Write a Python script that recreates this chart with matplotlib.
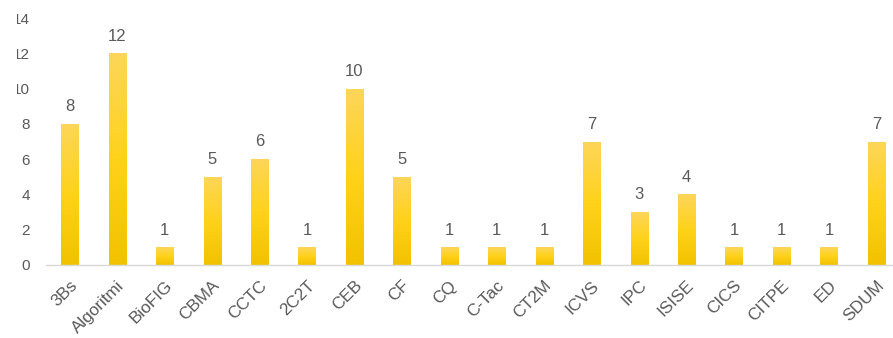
import numpy as np
import matplotlib.pyplot as plt
import matplotlib.transforms as mtransforms
from matplotlib.colors import LinearSegmentedColormap
from matplotlib.patches import Rectangle

plt.rcParams["font.family"] = ["Liberation Sans", "DejaVu Sans"]

# data
units = ["3Bs", "Algoritmi", "BioFIG", "CBMA", "CCTC", "2C2T", "CEB", "CF", "CQ",
         "C-Tac", "CT2M", "ICVS", "IPC", "ISISE", "CICS", "CITPE", "ED", "SDUM"]
counts = [8, 12, 1, 5, 6, 1, 10, 5, 1, 1, 1, 7, 3, 4, 1, 1, 1, 7]

text_col = "#595959"
grad = LinearSegmentedColormap.from_list("gold", ["#f2c200", "#ffd21a", "#fdd65a"])

W, H = 893, 338
fig = plt.figure(figsize=(W / 100, H / 100), dpi=100)
ax = fig.add_axes([46 / W, 73 / H, 1 - 46 / W, (265 - 18) / H])

x = np.arange(len(units))
bars = ax.bar(x, counts, width=0.36, color="none", edgecolor="none", zorder=2)

# vertical gradient inside each bar
g = np.linspace(0, 1, 256).reshape(-1, 1)
for b in bars:
    x0, y0 = b.get_x(), b.get_y()
    w, h = b.get_width(), b.get_height()
    im = ax.imshow(g, cmap=grad, origin="lower", aspect="auto",
                   extent=[x0, x0 + w, y0, y0 + h], zorder=2)
    im.set_clip_path(b)

for xi, v in zip(x, counts):
    ax.annotate(str(v), (xi, v), xytext=(0, 7), textcoords="offset points",
                ha="center", va="bottom", fontsize=12, color=text_col)

ax.set_xlim(-0.5, 17.35)
ax.set_ylim(0, 14)
ax.set_yticks(range(0, 15, 2))
ax.set_xticks(x)
ax.set_xticklabels(units, rotation=45, ha="right", va="center", rotation_mode="anchor")

ax.tick_params(axis="y", length=0, pad=11.5, labelsize=11, labelcolor=text_col)
ax.tick_params(axis="x", length=0, pad=13, labelsize=12.3, labelcolor=text_col)

shift = mtransforms.ScaledTranslation(5 / 100, 0, fig.dpi_scale_trans)
for lbl in ax.get_xticklabels():
    lbl.set_transform(lbl.get_transform() + shift)

for s in ["top", "right", "left"]:
    ax.spines[s].set_visible(False)
ax.spines["bottom"].set_color("#d9d9d9")
ax.spines["bottom"].set_linewidth(1)

# the source image is cut on the left, clipping the "1" of 10/12/14
fig.patches.append(Rectangle((0, 0), 16.5 / W, 1, transform=fig.transFigure,
                             facecolor="white", edgecolor="none", zorder=10))

fig.savefig("out.png", dpi=100)
